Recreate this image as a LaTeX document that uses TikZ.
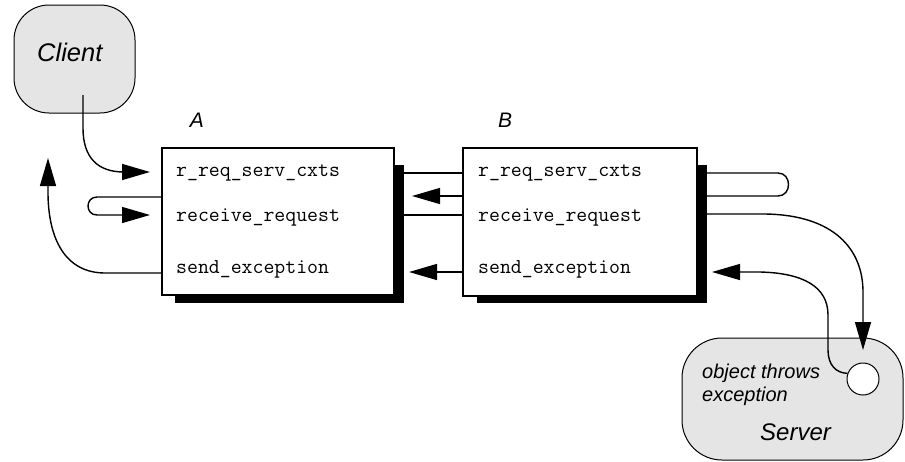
\documentclass[tikz,border=0pt]{standalone}
\usepackage{fontspec}
\newfontfamily\lsans{Liberation Sans}
\usetikzlibrary{arrows.meta}
\definecolor{bubble}{RGB}{229,229,229}
\tikzset{
  bubblebox/.style={draw, line width=1pt, fill=bubble, anchor=north west, inner sep=0pt, outer sep=0pt},
  objbox/.style={draw, line width=2pt, fill=white, anchor=north west, inner sep=0pt, outer sep=0pt},
  meth/.style={anchor=base west, inner sep=0pt, font=\ttfamily\fontsize{21.2}{23}\selectfont},
  lbl/.style={anchor=base, inner sep=0pt, font=\lsans\itshape\fontsize{21}{24}\selectfont},
  big/.style={anchor=base west, inner sep=0pt, font=\lsans\itshape\fontsize{24}{28}\selectfont},
  small/.style={anchor=base west, inner sep=0pt, font=\lsans\itshape\fontsize{20}{23}\selectfont},
  conn/.style={line width=1.4pt},
  arr/.style={conn, -{Triangle[length=28pt,width=16pt]}},
}
\begin{document}
\begin{tikzpicture}[x=1pt,y=-1pt]
\useasboundingbox (0,0) rectangle (905,461);

% Client and Server bubbles
\node[bubblebox, minimum width=121pt, minimum height=108pt, rounded corners=35pt] (client) at (14,5) {};
\node[big, font=\lsans\itshape\fontsize{25.5}{28}\selectfont] (clienttxt) at (37,61) {Client};
\node[bubblebox, minimum width=221pt, minimum height=122pt, rounded corners=40pt] (server) at (682,338) {};
\node[small] (obj1) at (702,378) {object throws};
\node[small] (obj2) at (702,401) {exception};
\node[big] (servertxt) at (760,440) {Server};
\node[draw, line width=1pt, fill=white, circle, minimum size=32pt, inner sep=0pt] (obj) at (863,379) {};

% Shadows
\fill (394,165) rectangle (404,303);
\fill (175,295) rectangle (404,303);
\fill (697,165) rectangle (707,303);
\fill (477,296) rectangle (707,303);

% Object boxes
\node[objbox, minimum width=232pt, minimum height=147pt] (A) at (162,148) {};
\node[objbox, minimum width=234pt, minimum height=148pt] (B) at (463,148) {};
\node[lbl] (Albl) at (197,127) {A};
\node[lbl] (Blbl) at (505,127) {B};

\node[meth] (a1) at (176,176) {r\_req\_serv\_cxts};
\node[meth] (a2) at (176,221) {receive\_request};
\node[meth] (a3) at (176,273) {send\_exception};
\node[meth] (b1) at (478,176) {r\_req\_serv\_cxts};
\node[meth] (b2) at (478,221) {receive\_request};
\node[meth] (b3) at (478,273) {send\_exception};

% coordinates
\coordinate (cs) at (83,95);
\coordinate (ca1) at (150,172);
\coordinate (ca2) at (150,215);
\coordinate (cup) at (48,158);
\coordinate (ashR) at (404,0);
\coordinate (bshR) at (707,0);

% Client -> A
\draw[arr] (cs) -- (83,128) .. controls (83,158) and (98,172) .. (124,172) -- (ca1);
% A loop
\draw[arr] (A.west |- 0,197) -- (97,197) .. controls (85,197) and (85,215) .. (97,215) -- (ca2);
% A send_exception -> client
\draw[arr] (A.west |- 0,273) -- (105,273) .. controls (66,273) and (48,240) .. (48,192) -- (cup);

% between A and B
\draw[conn] (B.west |- 0,173) -- (ashR |- 0,173);
\draw[arr] (B.west |- 0,196) -- (412,196);
\draw[conn] (B.west |- 0,215) -- (ashR |- 0,215);
\draw[arr] (B.west |- 0,272) -- (409,272);

% B loop
\draw[conn] (bshR |- 0,173) -- (778,173) .. controls (792,173) and (792,196) .. (778,196) -- (bshR |- 0,196);
% B receive_request -> server
\draw[arr] (bshR |- 0,214) -- (765,214) .. controls (835,215) and (863,250) .. (863,292) -- (obj.north |- 0,350);
% object -> B send_exception
\draw[arr] (obj.160) .. controls (836,373) and (828,365) .. (828,350) -- (828,315) .. controls (828,286) and (802,273) .. (760,272) -- (712,272);
\end{tikzpicture}
\end{document}
